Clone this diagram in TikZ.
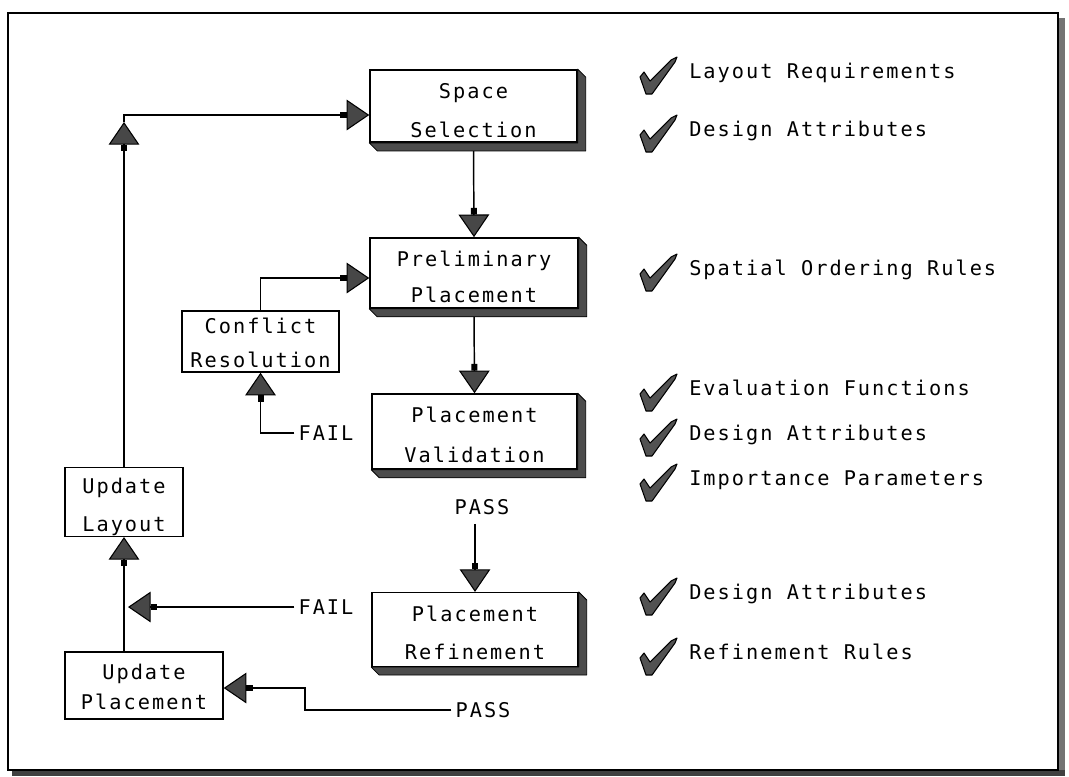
\documentclass[tikz,border=0pt]{standalone}
\usepackage{fontspec}
\usetikzlibrary{arrows.meta,fit}
\newfontfamily\plotfont{DejaVu Sans Mono}[LetterSpace=10]
\newcommand\boxfont[1]{\plotfont\fontsize{15.2pt}{#1}\selectfont}
\begin{document}
\begin{tikzpicture}[x=0.75pt,y=-0.75pt,
  box/.style={draw, line width=1.1pt, fill=white, inner sep=0pt, align=center, text height=11pt},
  lbl/.style={font=\boxfont{18pt}, inner sep=3pt, text height=11pt, text depth=0pt},
  item/.style={font=\boxfont{18pt}, anchor=west, inner sep=0pt, text height=11pt, text depth=0pt},
  arr/.style={line width=1.1pt,
    -{Rectangle[length=5pt,width=4.5pt] Triangle[width=23pt,length=17pt,fill=black!72,line width=0.8pt]}},
  shadowfill/.style={fill=black!70, draw=black, line width=0.6pt, line join=round},
  tick/.pic={\filldraw[fill=black!68, line width=0.8pt, line join=round]
    (0,20) -- (4,15) -- (10,24) -- (31,3) -- (37,0) -- (35,5) -- (12,37) -- (6,37) -- cycle;}
]
\useasboundingbox (0,0) rectangle (1069,776);

% outer frame with its drop edge
\fill[black!55] (1058,18) rectangle (1065,776);
\fill[black!75] (12,770) rectangle (1065,776);
\draw[line width=1.8pt] (8,13) rectangle (1058,770);

% process boxes
\node[box, fit={(370,58) (577,154)}, font=\boxfont{29.25pt}, text depth=33pt] (ss) {Space\\Selection};
\node[box, fit={(370,226) (578,320)}, font=\boxfont{27pt}, text depth=31pt] (pp) {Preliminary\\Placement};
\node[box, fit={(372,383) (577,480)}, font=\boxfont{30pt}, text depth=35pt] (pv) {Placement\\Validation};
\node[box, fit={(372,582) (578,677)}, font=\boxfont{28.5pt}, text depth=34pt] (pr) {Placement\\Refinement};
\node[box, fit={(182,302) (339,381)}, font=\boxfont{25.5pt}, text depth=29pt] (cr) {Conflict\\Resolution};
\node[box, fit={(65,455) (183,549)}, font=\boxfont{28.5pt}, text depth=32pt] (ul) {Update\\Layout};
\node[box, fit={(65,643) (223,728)}, font=\boxfont{22.5pt}, text depth=30pt] (up) {Update\\Placement};

% outcome labels
\node[lbl] (fail1) at (326,433) {FAIL};
\node[lbl] (pass1) at (482,507) {PASS};
\node[lbl] (fail2) at (326,607) {FAIL};
\node[lbl] (pass2) at (483,710) {PASS};

% free ends and bends of the connectors
\coordinate (failtip) at (128,607);
\coordinate (jog) at (305,688);
\coordinate (mid) at (ul.north |- 0,122);
\coordinate (bend) at (ul.north |- 0,115);

% connectors
\draw[arr] (ss.south) -- (pp.north);
\draw[arr] (pp.south) -- (pv.north);
\draw[arr] ([yshift=-4pt]pr.north |- pass1.south) -- (pr.north);
\draw[arr] (fail1.west) -| (cr.south);
\draw[arr] (cr.north) |- ([yshift=-3.75pt]pp.west);
\draw[arr] (fail2.west) -- (failtip);
\draw[arr] (pass2.west) -| (jog) -- (up.east |- jog);
\draw[arr] (ul.south |- up.north) -- (ul.south);
\draw[arr] (ul.north) -- (mid);
\draw[arr] (mid) -- (bend) -- (ss.west |- bend);

% drop shadows of the main steps
\foreach \b in {ss,pp,pv,pr}
  \filldraw[shadowfill] (\b.north east) -- ([shift={(8,8)}]\b.north east)
    -- ([shift={(8,8)}]\b.south east) -- ([shift={(8,8)}]\b.south west)
    -- (\b.south west) -- (\b.south east) -- cycle;

% criteria checked at each step
\pic at (640,57) {tick};  \node[item] (c1) at (689,71) {Layout Requirements};
\pic at (640,115) {tick}; \node[item] (c2) at (689,129) {Design Attributes};
\pic at (640,254) {tick}; \node[item] (c3) at (689,268) {Spatial Ordering Rules};
\pic at (640,374) {tick}; \node[item] (c4) at (689,388) {Evaluation Functions};
\pic at (640,419) {tick}; \node[item] (c5) at (689,433) {Design Attributes};
\pic at (640,464) {tick}; \node[item] (c6) at (689,478) {Importance Parameters};
\pic at (640,578) {tick}; \node[item] (c7) at (689,592) {Design Attributes};
\pic at (640,638) {tick}; \node[item] (c8) at (689,652) {Refinement Rules};
\end{tikzpicture}
\end{document}
